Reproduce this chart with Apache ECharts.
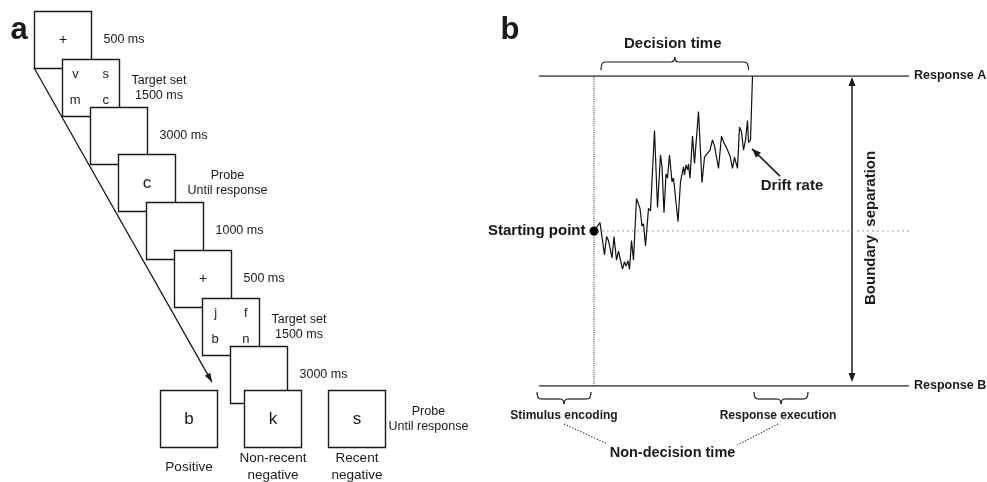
<!DOCTYPE html>
<html>
<head>
<meta charset="utf-8">
<script src="https://cdn.jsdelivr.net/npm/echarts@6/dist/echarts.min.js"></script>
<style>
  html, body { margin: 0; padding: 0; background: #fff; }
  #main { width: 987px; height: 482px; }
</style>
</head>
<body>
<div id="main"></div>
<script>
// panel a: the trial sequence (one step per screen)
const screenSteps = [0, 1, 2, 3, 4, 5, 6, 7];
const screenContent = ['+', 'v s m c', '', 'c', '', '+', 'j f b n', ''];
const screenNotes = ['500 ms', 'Target set\n1500 ms', '3000 ms', 'Probe\nUntil response',
  '1000 ms', '500 ms', 'Target set\n1500 ms', '3000 ms'];
const probeSlots = [4.5, 7.5, 10.5];
const probeRow = 7.92;
const probeLetters = ['b', 'k', 's'];
const probeTypes = ['Positive', 'Non-recent\nnegative', 'Recent\nnegative'];
const probeNote = 'Probe\nUntil response';

// panel b: diffusion trace, time in ms, evidence 0 = Response B, 1 = Response A
const traceTime = [110, 122, 131, 135, 139, 146, 150, 155, 159, 167, 171, 174, 178, 181, 185, 189,
  195, 202, 206, 209, 213, 219, 223, 231, 237, 243, 246, 250, 254, 257, 261, 266, 269, 278, 283,
  289, 291, 294, 297, 299, 302, 307, 311, 315, 319, 326, 331, 335, 338, 342, 347, 351, 359, 365,
  369, 373, 377, 382, 387, 391, 397, 401, 405, 409, 413, 417, 419, 423, 427];
const traceEvidence = [0.50, 0.527, 0.423, 0.482, 0.469, 0.413, 0.482, 0.406, 0.435, 0.377, 0.401,
  0.387, 0.404, 0.376, 0.469, 0.406, 0.605, 0.573, 0.516, 0.523, 0.452, 0.573, 0.565, 0.824, 0.576,
  0.745, 0.707, 0.559, 0.684, 0.671, 0.745, 0.659, 0.671, 0.530, 0.659, 0.707, 0.681, 0.713, 0.697,
  0.716, 0.670, 0.806, 0.718, 0.718, 0.885, 0.656, 0.738, 0.735, 0.753, 0.761, 0.794, 0.774, 0.702,
  0.806, 0.788, 0.794, 0.761, 0.742, 0.702, 0.738, 0.702, 0.835, 0.820, 0.761, 0.794, 0.856, 0.785,
  0.794, 1.0];
const startPoint = 0.5;
const phaseTimes = [0, 110, 427, 538];
const phaseNames = ['Stimulus encoding', 'Decision time', 'Response execution'];
const boundaryNames = ['Response A', 'Response B'];
const timeMax = 740;
const separationTime = 626;

const FONT = '"Liberation Sans", Arial, Helvetica, sans-serif';
const INK = '#1a1a1a';
const BOX = 57;

const measureCtx = document.createElement('canvas').getContext('2d');
function textWidth(str, size) {
  measureCtx.font = size + 'px ' + FONT;
  return Math.max.apply(null, str.split('\n').map(function (s) { return measureCtx.measureText(s).width; }));
}

function txt(x, y, text, size, extra) {
  return Object.assign({
    type: 'text', x: x, y: y,
    style: {
      text: text, fill: INK, fontSize: size, fontFamily: FONT,
      align: 'center', verticalAlign: 'middle', lineHeight: Math.round(size * 1.22)
    }
  }, extra || {});
}

function renderScreen(params, api) {
  const i = params.dataIndex;
  const p = api.coord([api.value(0), api.value(1)]);
  const x = Math.round(p[0]) + 0.5, y = Math.round(p[1]) + 0.5;
  const children = [{
    type: 'rect', shape: { x: x, y: y, width: BOX, height: BOX },
    style: { fill: '#fff', stroke: INK, lineWidth: 1.4 }
  }];
  const c = screenContent[i];
  if (c.indexOf(' ') >= 0) {
    const spots = [[0.23, 0.27], [0.76, 0.27], [0.22, 0.72], [0.76, 0.72]];
    c.split(' ').forEach(function (ch, k) {
      children.push(txt(x + spots[k][0] * BOX, y + spots[k][1] * BOX, ch, 13));
    });
  } else if (c) {
    children.push(txt(x + BOX / 2, y + BOX / 2, c, c === '+' ? 14 : 17));
  }
  const note = screenNotes[i];
  const w = textWidth(note, 12.5);
  children.push({
    type: 'text', x: x + BOX + 12 + w / 2, y: y + BOX / 2,
    style: { text: note, fill: INK, fontSize: 12.5, fontFamily: FONT,
      align: 'center', verticalAlign: 'middle', lineHeight: 15 }
  });
  return { type: 'group', children: children };
}

function renderProbe(params, api) {
  const j = params.dataIndex;
  const p = api.coord([api.value(0), api.value(1)]);
  const x = Math.round(p[0]) + 0.5, y = Math.round(p[1]) + 0.5;
  const children = [{
    type: 'rect', shape: { x: x, y: y, width: BOX, height: BOX },
    style: { fill: '#fff', stroke: INK, lineWidth: 1.4 }
  }, txt(x + BOX / 2, y + BOX / 2, probeLetters[j], 17), {
    type: 'text', x: x + BOX / 2, y: y + BOX + 19.5,
    style: { text: probeTypes[j], fill: INK, fontSize: 13.5, fontFamily: FONT,
      align: 'center', verticalAlign: 'middle', lineHeight: 17 }
  }];
  if (j === probeLetters.length - 1) {
    const w = textWidth(probeNote, 12.5);
    children.push({
      type: 'text', x: x + BOX + 3 + w / 2, y: y + BOX / 2,
      style: { text: probeNote, fill: INK, fontSize: 12.5, fontFamily: FONT,
        align: 'center', verticalAlign: 'middle', lineHeight: 15 }
    });
  }
  return { type: 'group', children: children };
}

function flatLine(data, color, width, type, extra) {
  return Object.assign({
    type: 'line', xAxisIndex: 1, yAxisIndex: 1, data: data,
    symbol: 'none', silent: true,
    lineStyle: { color: color, width: width, type: type || 'solid', opacity: 1 }
  }, extra || {});
}

function boundaryLabel(name) {
  return { show: true, formatter: name, distance: 5, color: INK, fontSize: 12.5,
    fontWeight: 'bold', fontFamily: FONT };
}

const option = {
  animation: false,
  grid: [
    { left: 34, top: 10.7, width: 336, height: 431.1, show: false },
    { left: 539, top: 76, width: 370, height: 310, show: false }
  ],
  xAxis: [
    { gridIndex: 0, type: 'value', min: 0, max: 12, show: false },
    { gridIndex: 1, type: 'value', min: 0, max: timeMax, show: false }
  ],
  yAxis: [
    { gridIndex: 0, type: 'value', min: 0, max: 9, inverse: true, show: false },
    { gridIndex: 1, type: 'value', min: 0, max: 1, show: false }
  ],
  series: [
    {
      type: 'custom', xAxisIndex: 0, yAxisIndex: 0, silent: true,
      data: screenSteps.map(function (s) { return [s, s]; }),
      renderItem: renderScreen
    },
    {
      type: 'custom', xAxisIndex: 0, yAxisIndex: 0, silent: true, z: 3,
      data: probeSlots.map(function (s) { return [s, probeRow]; }),
      renderItem: renderProbe
    },
    flatLine([[0, 1], [timeMax, 1]], '#333', 1.6, 'solid', { endLabel: boundaryLabel(boundaryNames[0]) }),
    flatLine([[0, 0], [timeMax, 0]], '#333', 1.6, 'solid', { endLabel: boundaryLabel(boundaryNames[1]) }),
    flatLine([[phaseTimes[1], 0], [phaseTimes[1], 1]], '#222', 1, [1, 1.2]),
    flatLine([[phaseTimes[1] + 6, startPoint], [timeMax, startPoint]], '#999', 1, [2, 3]),
    flatLine(traceTime.map(function (t, k) { return [t, traceEvidence[k]]; }), '#111', 1.2, 'solid', { z: 4 }),
    {
      type: 'scatter', xAxisIndex: 1, yAxisIndex: 1, silent: true, z: 5,
      data: [[phaseTimes[1], startPoint]],
      symbolSize: 9, itemStyle: { color: '#000', opacity: 1 },
      label: { show: true, position: 'left', distance: 4, formatter: 'Starting point',
        color: '#111', opacity: 1, fontSize: 15, fontWeight: 'bold', fontFamily: FONT }
    }
  ]
};

const chart = echarts.init(document.getElementById('main'), null, { renderer: 'canvas' });
chart.setOption(option);

const pa = function (v) { return chart.convertToPixel({ gridIndex: 0 }, v); };
const pb = function (v) { return chart.convertToPixel({ gridIndex: 1 }, v); };

function seg(x1, y1, x2, y2, width, dash) {
  return { type: 'line', shape: { x1: x1, y1: y1, x2: x2, y2: y2 },
    style: { stroke: INK, lineWidth: width, lineDash: dash || null } };
}

function arrowHead(tip, from, len, half) {
  const dx = tip[0] - from[0], dy = tip[1] - from[1];
  const d = Math.hypot(dx, dy), ux = dx / d, uy = dy / d;
  const bx = tip[0] - ux * len, by = tip[1] - uy * len;
  return { type: 'polygon', shape: { points: [tip, [bx - uy * half, by + ux * half], [bx + uy * half, by - ux * half]] },
    style: { fill: INK } };
}

function curve(x1, y1, cx, cy, x2, y2) {
  return { type: 'bezierCurve', shape: { x1: x1, y1: y1, cpx1: cx, cpy1: cy, x2: x2, y2: y2 },
    style: { stroke: INK, lineWidth: 1.2, fill: null } };
}

// curly brace: ends at yEnd, flat part at yH, middle tip at yTip
function brace(x1, x2, yEnd, yH, yTip) {
  const xm = (x1 + x2) / 2, r = 4;
  return [
    curve(x1, yEnd, x1, yH, x1 + r, yH),
    seg(x1 + r, yH, xm - r, yH, 1.2),
    curve(xm - r, yH, xm, yH, xm, yTip),
    curve(xm, yTip, xm, yH, xm + r, yH),
    seg(xm + r, yH, x2 - r, yH, 1.2),
    curve(x2 - r, yH, x2, yH, x2, yEnd)
  ];
}

const g = [];
const bold = function (x, y, text, size, extra) {
  const t = txt(x, y, text, size, extra);
  t.style.fontWeight = 'bold';
  return t;
};

// panel letters
g.push(bold(19, 30, 'a', 31));
g.push(bold(510, 30, 'b', 31));

// panel a: time arrow
const a0 = pa([screenSteps[0], screenSteps[0]]);
const tail = [a0[0], a0[1] + BOX];
const p0 = pa([probeSlots[0], probeRow]);
const tip = [p0[0] + BOX - 5, p0[1] - 8];
g.push(seg(tail[0], tail[1], tip[0], tip[1], 1.3));
g.push(arrowHead(tip, tail, 9, 3.2));

// panel b annotations
const topY = pb([0, 1])[1], botY = pb([0, 0])[1];
const xT = function (t) { return pb([t, 0])[0]; };

const d1 = xT(phaseTimes[1]) + 7, d2 = xT(phaseTimes[2]) - 4;
brace(d1, d2, topY - 6, topY - 14, topY - 19).forEach(function (e) { g.push(e); });
g.push(bold((d1 + d2) / 2 - 2, topY - 32, phaseNames[1], 15));

const e1 = xT(phaseTimes[0]) - 2, e2 = xT(phaseTimes[1]) - 3;
brace(e1, e2, botY + 6, botY + 13, botY + 18).forEach(function (e) { g.push(e); });
const r1 = xT(phaseTimes[2]) + 1.5, r2 = xT(phaseTimes[3]);
brace(r1, r2, botY + 6, botY + 13, botY + 18).forEach(function (e) { g.push(e); });
const em = (e1 + e2) / 2, rm = (r1 + r2) / 2;
g.push(bold(em, botY + 30, phaseNames[0], 12));
g.push(bold(rm - 3, botY + 30, phaseNames[2], 12));

const nx = (em + rm) / 2;
g.push(bold(nx, botY + 67, 'Non-decision time', 14.5));
g.push(seg(em, botY + 38, nx - 65, botY + 58, 1.1, [1.2, 1.8]));
g.push(seg(rm - 3, botY + 38, nx + 65, botY + 59, 1.1, [1.2, 1.8]));

// drift rate arrow
const dTip = pb([426, 0.765]), dTail = pb([482, 0.677]);
g.push(seg(dTail[0], dTail[1], dTip[0], dTip[1], 1.5));
g.push(arrowHead(dTip, dTail, 9, 3.5));
const dl = pb([506, 0.645]);
g.push(bold(dl[0], dl[1], 'Drift rate', 15));

// boundary separation
const sTop = pb([separationTime, 0.997]), sBot = pb([separationTime, 0.013]);
g.push(seg(sTop[0], sTop[1] + 6, sBot[0], sBot[1] - 6, 1.5));
g.push(arrowHead(sTop, [sTop[0], sTop[1] + 20], 9, 3.5));
g.push(arrowHead(sBot, [sBot[0], sBot[1] - 20], 9, 3.5));
const sl = pb([664, 0.51]);
g.push(bold(sl[0], sl[1], 'Boundary  separation', 15, { rotation: Math.PI / 2 }));

chart.setOption({ graphic: g });
</script>
</body>
</html>
